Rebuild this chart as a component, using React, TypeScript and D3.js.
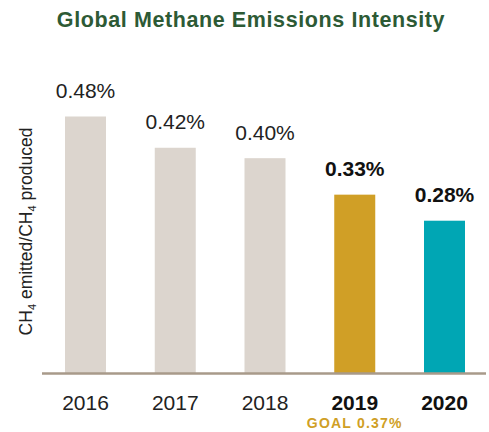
import React from "react";
import * as d3 from "d3";

const years = ["2016", "2017", "2018", "2019", "2020"];
const values = [0.48, 0.42, 0.40, 0.33, 0.28];
const valueLabels = ["0.48%", "0.42%", "0.40%", "0.33%", "0.28%"];
const highlight = [false, false, false, true, true];
const barColors = ["#dcd5ce", "#dcd5ce", "#dcd5ce", "#d09f26", "#00a6b4"];
const goalLabel = "GOAL 0.37%";
const goalYear = "2019";

export default function App() {
  const W = 489, H = 432;
  const baseline = 373.5;
  const x = d3.scalePoint<string>().domain(years).range([85.5, 444.5]);
  const y = d3.scaleLinear().domain([0, 0.48]).range([366.6, 116.5]);
  const bw = 41;
  const font = "'Liberation Sans', Arial, sans-serif";
  return (
    <svg width={W} height={H} style={{ position: "absolute", left: 0, top: 0 }} fontFamily={font}>
      <text x={251} y={27} textAnchor="middle" fontSize={21.5} letterSpacing={0.6} fontWeight="bold" fill="#2d5a35">
        Global Methane Emissions Intensity
      </text>
      {years.map((yr, i) => (
        <g key={yr}>
          <rect x={x(yr)! - bw / 2} y={y(values[i])} width={bw} height={baseline - y(values[i])} fill={barColors[i]} />
          <text x={x(yr)} y={y(values[i]) - 18.5} textAnchor="middle" fontSize={21}
            fontWeight={highlight[i] ? "bold" : "normal"} fill={highlight[i] ? "#111" : "#222"}>
            {valueLabels[i]}
          </text>
          <text x={x(yr)} y={410} textAnchor="middle" fontSize={21}
            fontWeight={highlight[i] ? "bold" : "normal"} fill={highlight[i] ? "#111" : "#222"}>
            {yr}
          </text>
        </g>
      ))}
      <line x1={42} x2={486} y1={baseline} y2={baseline} stroke="#a89a8a" strokeWidth={2.5} />
      <text x={x(goalYear)} y={428} textAnchor="middle" fontSize={14} letterSpacing={1.2} fontWeight="bold" fill="#d09f26">
        {goalLabel}
      </text>
      <text transform={`translate(32,231.5) rotate(-90)`} textAnchor="middle" fontSize={17.5} fill="#222">
        CH<tspan fontSize={11} dy={3.5}>4</tspan><tspan dy={-3.5}> emitted/CH</tspan><tspan fontSize={11} dy={3.5}>4</tspan><tspan dy={-3.5}> produced</tspan>
      </text>
    </svg>
  );
}
